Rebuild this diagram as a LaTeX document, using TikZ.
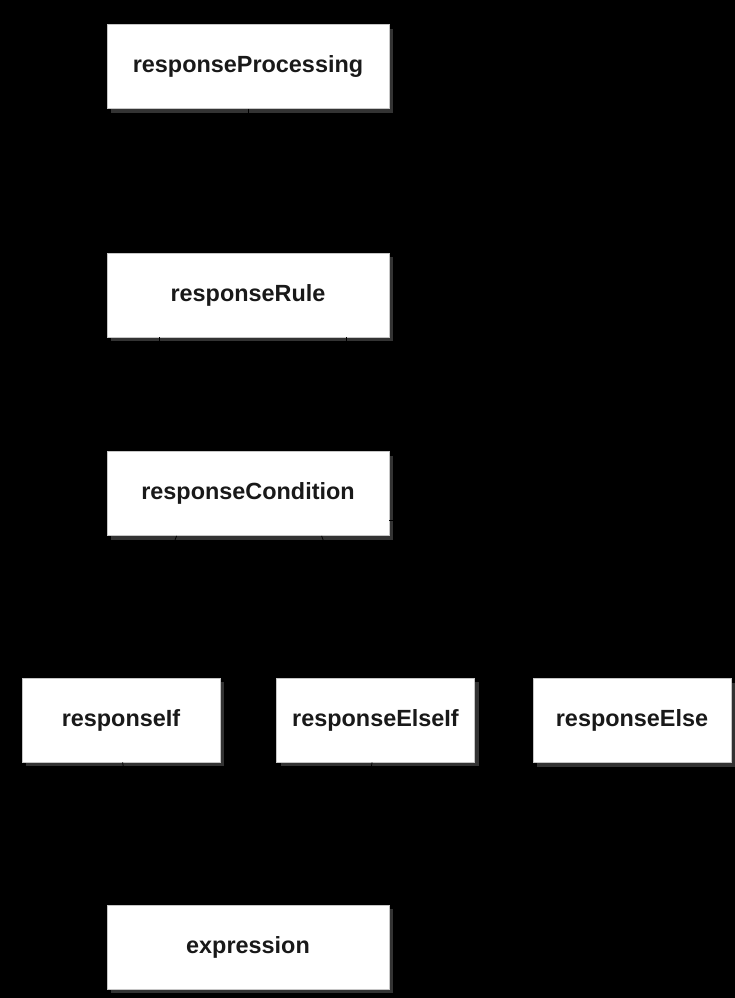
\documentclass[tikz,border=0pt]{standalone}
\usepackage{fontspec}
\setmainfont{Liberation Sans}
\usetikzlibrary{shadows,calc}
\begin{document}
\begin{tikzpicture}[x=1bp,y=-1bp,
  box/.style={draw=gray!45, line width=0.8bp, fill=white, inner sep=0pt,
    font=\fontsize{23.5}{26}\selectfont\bfseries, text=black!90,
    drop shadow={shadow xshift=4bp, shadow yshift=-4bp, fill=gray!40!black, opacity=1}},
  wide/.style={box, minimum width=282bp, minimum height=84bp},
  narrow/.style={box, minimum width=198bp, minimum height=84bp},
  link/.style={draw=black, line width=0.8bp}]
\fill[black] (0,0) rectangle (735,998);
\useasboundingbox (0,0) rectangle (735,998);
\node[wide] (rp) at (248,66.5) {responseProcessing};
\node[wide] (rr) at (248,295) {responseRule};
\node[wide] (rc) at (248,493.5) {responseCondition};
\node[narrow] (ri) at (121,720) {responseIf};
\node[narrow] (rei) at (375.5,720) {responseElseIf};
\node[narrow] (re) at (632,720.5) {responseElse};
\node[wide] (ex) at (248,947) {expression};
\draw[link] (rp.south) -- (rr.north);
\draw[link] ($(rr.south west)+(53,0)$) -- ($(rc.north west)+(53,0)$);
\draw[link] ($(rr.south west)+(240,0)$) -- ($(rc.north west)+(240,0)$);
\draw[link] ($(rc.south west)+(70,0)$) -- ($(ri.north west)+(99,0)$);
\draw[link] ($(rc.south west)+(215,0)$) -- (rei.north);
\draw[link] ($(rc.east)+(0,27)$) -| (re.north);
\draw[link] ($(ri.south west)+(101,0)$) -- ($(ex.north west)+(40,0)$);
\draw[link] ($(rei.south west)+(96,0)$) -- ($(ex.north west)+(240,0)$);
\end{tikzpicture}
\end{document}
